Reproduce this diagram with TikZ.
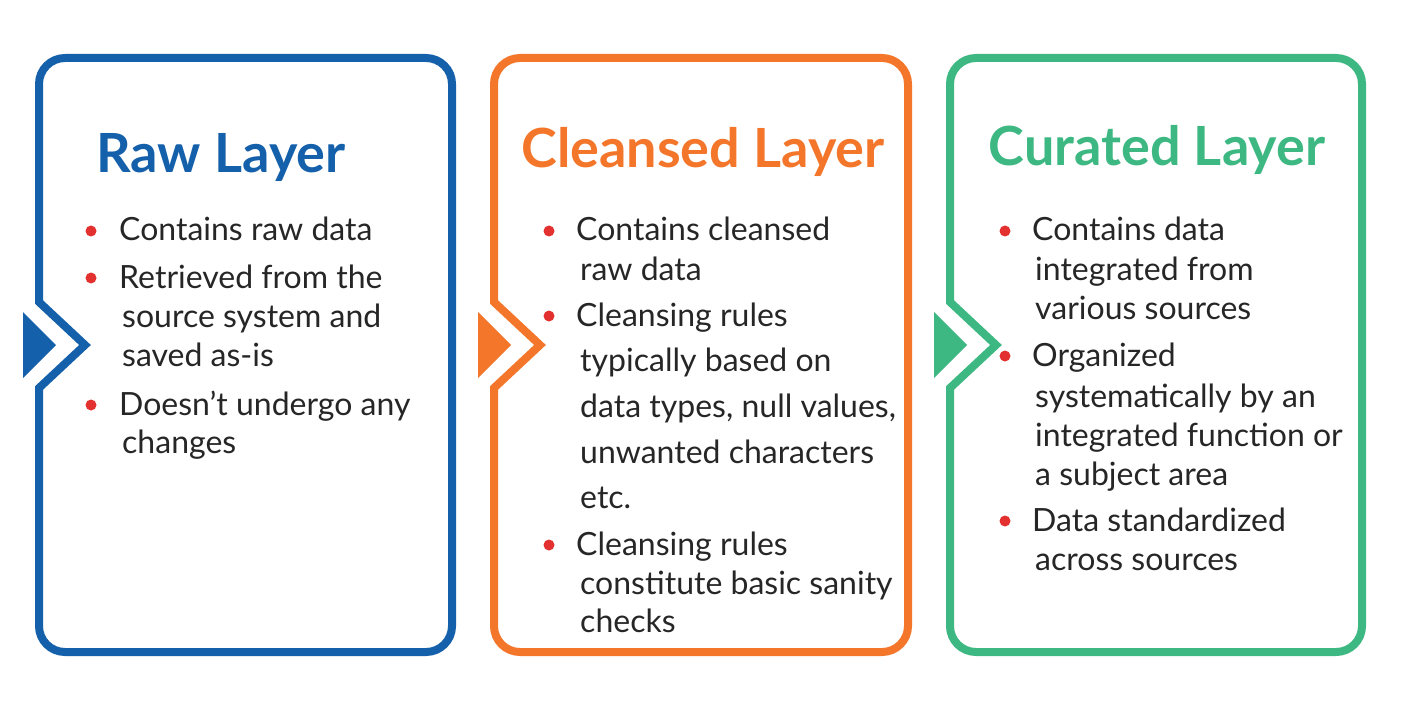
\documentclass[tikz,border=0pt]{standalone}
\usepackage{fontspec}
\setmainfont{Lato}
\definecolor{cblue}{HTML}{1560AA}
\definecolor{corange}{HTML}{F3762A}
\definecolor{cgreen}{HTML}{3DB882}
\definecolor{cred}{HTML}{E3312F}
\begin{document}
\begin{tikzpicture}[x=1pt,y=-1pt,
  boxline/.style={line width=8pt,line join=miter},
  ttl/.style={font=\fontsize{54}{58}\selectfont\bfseries},
  txt/.style={anchor=base west,inner sep=0pt,font=\fontsize{32}{34}\selectfont,text=black!85},
  bul/.style={circle,fill=cred,inner sep=0pt,minimum size=11pt}]
\useasboundingbox (0,0) rectangle (1407,703);
\foreach \L/\R/\c/\n in {39/452/cblue/a,494/908/corange/b,950/1362/cgreen/c}{
  \draw[boxline,draw=\c] (\L,302) [rounded corners=26pt] -- (\L,58) -- (\R,58) -- (\R,652) -- (\L,652) [sharp corners] -- (\L,388) -- (\L+46,345) -- cycle;
  \fill[\c] (\L-16,312) -- (\L+17,345) -- (\L-16,378) -- cycle;
}
\node[ttl,text=cblue] (ta) at (221,158) {Raw Layer};
\node[ttl,text=corange] (tb) at (703,152) {Cleansed Layer};
\node[ttl,text=cgreen] (tc) at (1157,150) {Curated Layer};
% box 1
\foreach \y in {231,278,405}{\node[bul] at (91,\y) {};}
\node[txt] at (119,241) {Contains raw data};
\node[txt] at (119,288) {Retrieved from the};
\node[txt] at (122,327) {source system and};
\node[txt] at (122,366) {saved as-is};
\node[txt] at (119,415) {Doesn’t undergo any};
\node[txt] at (122,453) {changes};
% box 2
\foreach \y in {231,316,545}{\node[bul] at (549,\y) {};}
\node[txt] at (576,241) {Contains cleansed};
\node[txt] at (580,280) {raw data};
\node[txt] at (576,326) {Cleansing rules};
\node[txt] at (580,371) {typically based on};
\node[txt] at (580,417) {data types, null values,};
\node[txt] at (580,463) {unwanted characters};
\node[txt] at (580,508) {etc.};
\node[txt] at (576,555) {Cleansing rules};
\node[txt] at (580,594) {constitute basic sanity};
\node[txt] at (580,632) {checks};
% box 3
\foreach \y in {231,356,521}{\node[bul] at (1005,\y) {};}
\node[txt] at (1032,241) {Contains data};
\node[txt] at (1035,280) {integrated from};
\node[txt] at (1035,319) {various sources};
\node[txt] at (1032,366) {Organized};
\node[txt] at (1035,407) {systematically by an};
\node[txt] at (1035,446) {integrated function or};
\node[txt] at (1035,485) {a subject area};
\node[txt] at (1032,531) {Data standardized};
\node[txt] at (1035,570) {across sources};
\end{tikzpicture}
\end{document}
